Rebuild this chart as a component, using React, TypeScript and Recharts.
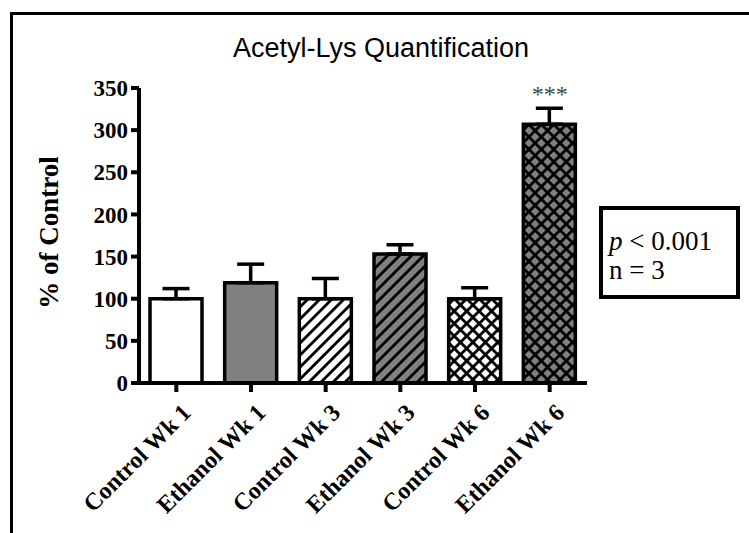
import React from "react";
import {
  BarChart,
  Bar,
  Cell,
  XAxis,
  YAxis,
  ErrorBar,
  ReferenceDot,
} from "recharts";

const groups = [
  "Control Wk 1",
  "Ethanol Wk 1",
  "Control Wk 3",
  "Ethanol Wk 3",
  "Control Wk 6",
  "Ethanol Wk 6",
];
const means = [100, 119, 100, 153, 100, 307];
const sems = [12, 22, 24, 11, 13, 19];
const fills = ["solidW", "solidG", "hatchW", "hatchG", "crossW", "crossG"];
const yTicks = [0, 50, 100, 150, 200, 250, 300, 350];
const signif = "***";

const GRAY = "#808080";
const SERIF = "'Liberation Serif', 'Times New Roman', serif";
const SANS = "'Liberation Sans', Arial, sans-serif";

const rows = groups.map((g, i) => ({
  name: g,
  value: means[i],
  err: [0, sems[i]],
}));

function XTick({ x, y, payload }: any) {
  return (
    <g transform={`translate(${x + 16},${y + 20})`}>
      <text
        x={0}
        y={0}
        textAnchor="end"
        transform="rotate(-45)"
        fontFamily={SERIF}
        fontWeight="bold"
        fontSize={24}
        fill="#000"
      >
        {payload.value}
      </text>
    </g>
  );
}

function YTitle({ viewBox }: any) {
  const cy = viewBox.y + viewBox.height / 2 - 3;
  return (
    <text
      x={49}
      y={cy}
      transform={`rotate(-90, 49, ${cy})`}
      textAnchor="middle"
      dominantBaseline="central"
      fontFamily={SERIF}
      fontWeight="bold"
      fontSize={27}
      fill="#000"
    >
      % of Control
    </text>
  );
}

function Hatch({ id, bg, cross, size }: any) {
  const h = size / 2;
  return (
    <pattern
      id={id}
      width={size}
      height={size}
      patternUnits="userSpaceOnUse"
      patternTransform="rotate(45)"
    >
      <rect width={size} height={size} fill={bg} />
      <line x1={h} y1={0} x2={h} y2={size} stroke="#000" strokeWidth={2.8} />
      {cross && (
        <line x1={0} y1={h} x2={size} y2={h} stroke="#000" strokeWidth={2.8} />
      )}
    </pattern>
  );
}

export default function App() {
  return (
    <div
      style={{
        position: "absolute",
        left: 0,
        top: 0,
        width: 749,
        height: 533,
        overflow: "hidden",
        background: "#fff",
      }}
    >
      {/* outer frame, right/bottom edges fall outside the picture */}
      <div
        style={{
          position: "absolute",
          left: 10,
          top: 12,
          width: 800,
          height: 600,
          border: "3.5px solid #000",
          boxSizing: "border-box",
        }}
      />
      <div
        style={{
          position: "absolute",
          left: 0,
          top: 34,
          width: 762,
          textAlign: "center",
          fontFamily: SANS,
          fontSize: 27,
          lineHeight: "28px",
          color: "#000",
        }}
      >
        Acetyl-Lys Quantification
      </div>

      <div style={{ position: "absolute", left: 0, top: 0 }}>
        <BarChart
          width={749}
          height={533}
          data={rows}
          margin={{ top: 88, right: 162, bottom: 0, left: 0 }}
          barSize={52}
        >
          <defs>
            <pattern id="solidW" width="8" height="8" patternUnits="userSpaceOnUse">
              <rect width="8" height="8" fill="#fff" />
            </pattern>
            <pattern id="solidG" width="8" height="8" patternUnits="userSpaceOnUse">
              <rect width="8" height="8" fill={GRAY} />
            </pattern>
            <Hatch id="hatchW" bg="#fff" size={8.5} />
            <Hatch id="hatchG" bg={GRAY} size={8.5} />
            <Hatch id="crossW" bg="#fff" size={8.8} cross />
            <Hatch id="crossG" bg={GRAY} size={8.8} cross />
          </defs>
          <XAxis
            dataKey="name"
            height={150}
            interval={0}
            axisLine={{ stroke: "#000", strokeWidth: 4 }}
            tickLine={{ stroke: "#000", strokeWidth: 4 }}
            tickSize={9}
            tick={<XTick />}
          />
          <YAxis
            width={139}
            domain={[0, 350]}
            ticks={yTicks}
            interval={0}
            axisLine={{ stroke: "#000", strokeWidth: 4 }}
            tickLine={{ stroke: "#000", strokeWidth: 4 }}
            tickSize={8}
            tickMargin={3}
            tick={{
              fill: "#000",
              fontFamily: SERIF,
              fontWeight: "bold",
              fontSize: 23,
            }}
            label={<YTitle />}
          />
          <Bar
            dataKey="value"
            stroke="#000"
            strokeWidth={3.5}
            isAnimationActive={false}
          >
            {rows.map((r, i) => (
              <Cell key={r.name} fill={`url(#${fills[i]})`} />
            ))}
            <ErrorBar
              dataKey="err"
              direction="y"
              width={13.5}
              stroke="#000"
              strokeWidth={3.5}
              isAnimationActive={false}
            />
          </Bar>
          <ReferenceDot
            x={groups[5]}
            y={means[5] + sems[5]}
            r={0}
            fill="none"
            stroke="none"
            label={{
              value: signif,
              position: "top",
              offset: 6,
              fill: "#444",
              fontFamily: SERIF,
              fontSize: 24,
            }}
          />
        </BarChart>
      </div>

      {/* stats box */}
      <div
        style={{
          position: "absolute",
          left: 599,
          top: 206,
          width: 141,
          height: 93,
          border: "4px solid #000",
          boxSizing: "border-box",
          fontFamily: SERIF,
          fontSize: 27,
          lineHeight: "29px",
          paddingLeft: 6,
          paddingTop: 17,
          color: "#000",
          background: "#fff",
        }}
      >
        <div>
          <i>p</i> &lt; 0.001
        </div>
        <div>n = 3</div>
      </div>
    </div>
  );
}
